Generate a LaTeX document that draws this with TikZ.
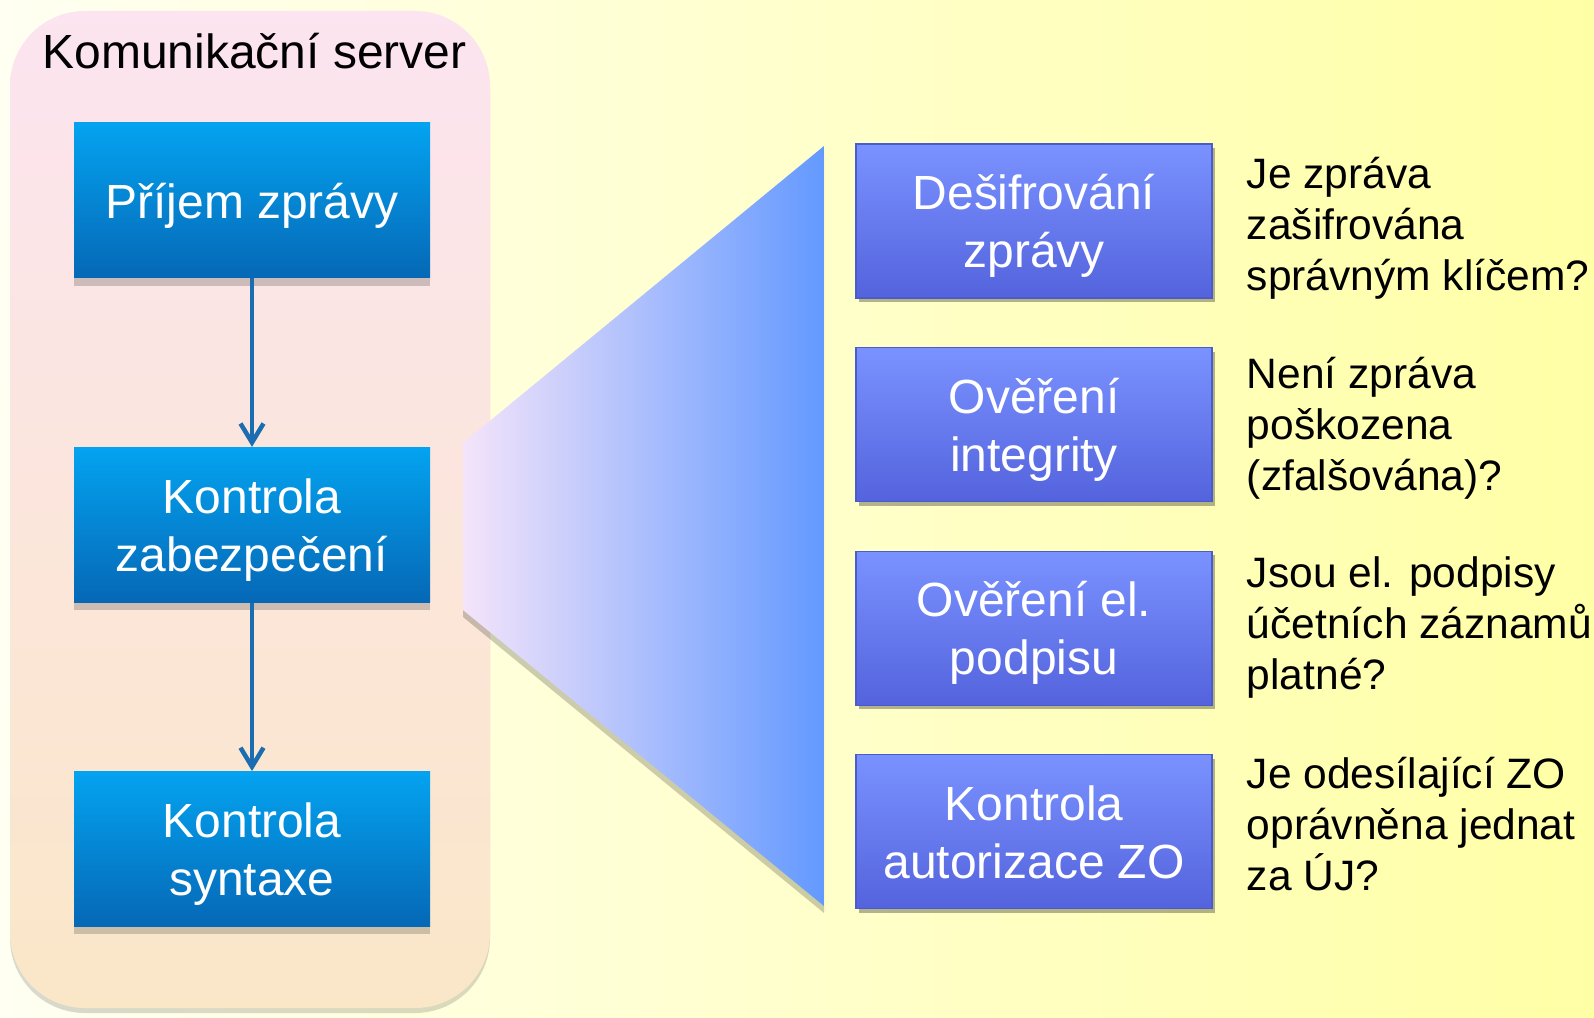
\documentclass[tikz,border=0pt]{standalone}
\usepackage{fontspec}
\setmainfont{Liberation Sans}
\usetikzlibrary{arrows.meta, positioning, shadows}
\definecolor{bgleft}{HTML}{FFFFF2}
\definecolor{bgright}{HTML}{FFFFA6}
\definecolor{panelpink}{HTML}{FCE4F0}
\definecolor{panelpeach}{HTML}{FAE7C8}
\definecolor{proctop}{HTML}{04A3F0}
\definecolor{procbot}{HTML}{0568B6}
\definecolor{arrblue}{HTML}{1A6DB0}
\definecolor{funleft}{HTML}{F4E4FA}
\definecolor{funright}{HTML}{6399FF}
\definecolor{chktop}{HTML}{7A92FF}
\definecolor{chkbot}{HTML}{5463DD}
\definecolor{chkline}{HTML}{4B5BC9}
\tikzset{
  proc/.style={rectangle, minimum width=7.12cm, minimum height=3.1cm, top color=proctop,
    bottom color=procbot, text=white, align=center, font=\fontsize{27.3}{33}\selectfont,
    text depth=-2.5pt,
    drop shadow={shadow xshift=0cm, shadow yshift=-0.16cm, fill=black, opacity=0.18}},
  check/.style={rectangle, minimum width=7.12cm, minimum height=3.08cm, top color=chktop,
    bottom color=chkbot, draw=chkline, line width=0.6pt, text=white, align=center,
    font=\fontsize{27.3}{33}\selectfont, text depth=-2.5pt,
    drop shadow={shadow xshift=0.05cm, shadow yshift=-0.08cm, fill=black, opacity=0.3}},
  quest/.style={inner sep=0pt, align=left, anchor=west, yshift=-0.14cm,
    font=\fontsize{24.2}{29}\selectfont},
  arr/.style={-{Straight Barb[length=0.38cm, width=0.46cm]}, line width=0.09cm, arrblue},
}

\begin{document}
\begin{tikzpicture}[node distance=1cm]
    \useasboundingbox (0,0) rectangle (31.88,20.34);
    \shade[left color=bgleft, right color=bgright] (0,0) rectangle (31.88,20.34);
    % server panel
    \fill[black, opacity=0.15, rounded corners=1.5cm] (0.2,0.08) rectangle (9.8,20.02);
    \shade[rounded corners=1.5cm, top color=panelpink, bottom color=panelpeach] (0.2,0.18) rectangle (9.8,20.12);
    \node[font=\fontsize{27.3}{33}\selectfont, anchor=base] (title) at (5.09,18.96) {Komunikační server};
    \node[proc] (rx) at (5.04,16.33) {Příjem zprávy};
    \node[proc, below=3.37cm of rx] (sec) {Kontrola\\zabezpečení};
    \node[proc, below=3.37cm of sec] (syn) {Kontrola\\syntaxe};
    \draw[arr] (rx) -- (sec);
    \draw[arr] (sec) -- (syn);
    % funnel
    \coordinate (fa) at (9.26,11.48);
    \coordinate (fb) at (16.48,17.42);
    \coordinate (fc) at (16.48,2.22);
    \coordinate (fd) at (9.26,8.14);
    \fill[black, opacity=0.2] ([yshift=-0.14cm]fa) -- ([yshift=-0.14cm]fb) -- ([yshift=-0.14cm]fc) -- ([yshift=-0.14cm]fd) -- cycle;
    \shade[left color=funleft, right color=funright] (fa) -- (fb) -- (fc) -- (fd) -- cycle;
    % checks
    \node[check] (dec) at (20.68,15.92) {Dešifrování\\zprávy};
    \node[check, below=0.97cm of dec] (integ) {Ověření\\integrity};
    \node[check, below=0.97cm of integ] (sig) {Ověření el.\\podpisu};
    \node[check, below=0.97cm of sig] (auth) {Kontrola\\autorizace ZO};
    \node[quest, right=0.68cm of dec] (qdec) {Je zpráva\\zašifrována\\správným klíčem?};
    \node[quest, right=0.68cm of integ, yshift=0.06cm] (qinteg) {Není zpráva\\poškozena\\(zfalšována)?};
    \node[quest, right=0.68cm of sig, yshift=0.16cm] (qsig) {Jsou el. podpisy\\účetních záznamů\\platné?};
    \node[quest, right=0.68cm of auth, yshift=0.3cm] (qauth) {Je odesílající ZO\\oprávněna jednat\\za ÚJ?};
\end{tikzpicture}
\end{document}
